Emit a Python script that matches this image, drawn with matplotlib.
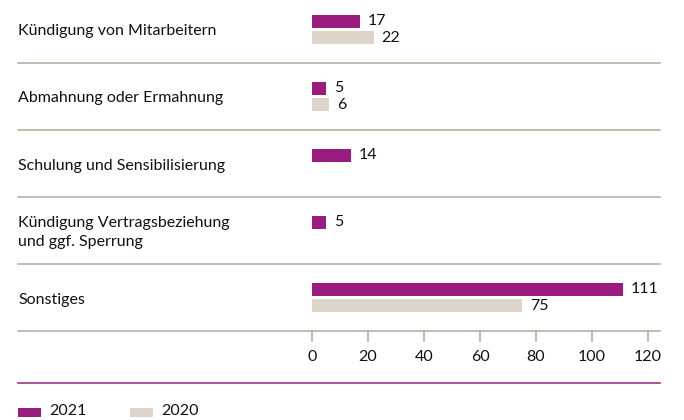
import matplotlib.pyplot as plt
import matplotlib.transforms as mtransforms
from matplotlib.patches import Rectangle

# Kategorien und Werte
categories = ['Kündigung von Mitarbeitern', 'Abmahnung oder Ermahnung',
              'Schulung und Sensibilisierung',
              'Kündigung Vertragsbeziehung\nund ggf. Sperrung', 'Sonstiges']
values_2021 = [17, 5, 14, 5, 111]
values_2020 = [22, 6, None, None, 75]
years = ['2021', '2020']
x_ticks = [0, 20, 40, 60, 80, 100, 120]

purple = '#9b1c7f'
beige = '#ddd5ca'
rule = '#b3a99e'
text_col = '#111111'

plt.rcParams['font.family'] = 'Lato'
fs = 11.5

fig = plt.figure(figsize=(6.84, 4.2), dpi=100)
W, H = 684, 420
ax = fig.add_axes([312 / W, 1 - 331 / H, 336 / W, 331 / H])
ax.set_xlim(0, 120)
ax.set_ylim(4.5, -0.44)

bh = 0.194
off = 0.12
for i, (v1, v0) in enumerate(zip(values_2021, values_2020)):
    ax.barh(i - off, v1, height=bh, color=purple)
    ax.text(v1 + 2.8, i - off, str(v1), va='center', ha='left', fontsize=fs, color=text_col)
    if v0 is not None:
        ax.barh(i + off, v0, height=bh, color=beige)
        ax.text(v0 + 2.8, i + off, str(v0), va='center', ha='left', fontsize=fs, color=text_col)

# Kategorienamen links, Trennlinien über die volle Breite
blend = mtransforms.blended_transform_factory(fig.transFigure, ax.transData)
for i, cat in enumerate(categories):
    ax.text(18 / W, i + 0.03, cat, transform=blend, va='center', ha='left',
            fontsize=fs, color=text_col, linespacing=1.5)
    ax.plot([18 / W, 660 / W], [i + 0.5, i + 0.5], transform=blend,
            color=rule, lw=1.1, clip_on=False)

ax.set_xticks(x_ticks)
ax.set_xticklabels([str(t) for t in x_ticks], fontsize=fs, color=text_col)
ax.tick_params(axis='x', length=8, width=1.1, color=rule, pad=6, direction='out')
ax.set_yticks([])
for s in ax.spines.values():
    s.set_visible(False)

# Linie unter der Achse
fig.add_artist(plt.Line2D([18 / W, 660 / W], [1 - 383 / H, 1 - 383 / H],
                          color=purple, lw=1.1))

# Legende
for x0, col, lab in [(18, purple, years[0]), (130, beige, years[1])]:
    fig.add_artist(Rectangle((x0 / W, 1 - 417 / H), 23 / W, 9 / H,
                             transform=fig.transFigure, color=col, lw=0))
    fig.text((x0 + 31) / W, 1 - 411 / H, lab, va='center', ha='left',
             fontsize=fs, color=text_col)

fig.savefig('out.png', dpi=100)
